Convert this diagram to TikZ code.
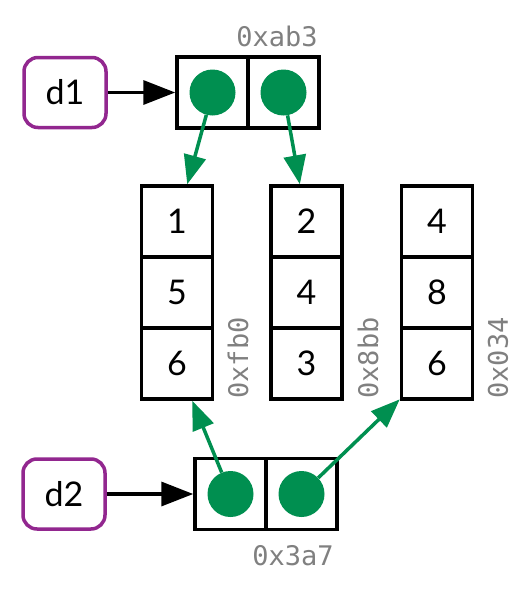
\documentclass[tikz,border=0pt]{standalone}
\usepackage{fontspec}
\setmainfont{Lato}
\setmonofont{DejaVu Sans Mono}
\usetikzlibrary{arrows.meta}
\definecolor{ptrgreen}{RGB}{0,143,80}
\definecolor{varpurple}{RGB}{146,39,143}
\definecolor{addrgray}{RGB}{128,128,128}
\tikzset{
  cell/.style={draw, line width=3.5pt, minimum width=71pt, minimum height=71pt, inner sep=0pt, font=\fontsize{34}{34}\selectfont},
  var/.style={draw=varpurple, line width=3.5pt, rounded corners=14pt, minimum width=82pt, minimum height=70pt, inner sep=0pt, font=\fontsize{34}{34}\selectfont},
  dot/.style={circle, fill=ptrgreen, minimum size=46pt, inner sep=0pt},
  addr/.style={text=addrgray, inner sep=0pt, font=\ttfamily\fontsize{27}{27}\selectfont},
  ptr/.style={draw=ptrgreen, line width=3.5pt, -{Triangle[length=29pt,width=22pt]}},
  bind/.style={line width=3.5pt, -{Triangle[length=32pt,width=24pt]}}
}
\begin{document}
\begin{tikzpicture}[x=1pt,y=-1pt]
  \useasboundingbox (0,0) rectangle (531,590);
  \node[var] (d1) at (65,92.5) {d1};
  \node[var] (d2) at (64,494) {d2};

  \node[cell] (x1) at (212.5,92.5) {};
  \node[cell] (x2) at (283.5,92.5) {};
  \node[cell] (y1) at (230.5,494) {};
  \node[cell] (y2) at (301.5,494) {};

  \node[cell] (u1) at (177,221.5) {1};
  \node[cell] (u2) at (177,292.5) {5};
  \node[cell] (u3) at (177,363.5) {6};
  \node[cell] (v1) at (306.5,221.5) {2};
  \node[cell] (v2) at (306.5,292.5) {4};
  \node[cell] (v3) at (306.5,363.5) {3};
  \node[cell] (w1) at (437,221.5) {4};
  \node[cell] (w2) at (437,292.5) {8};
  \node[cell] (w3) at (437,363.5) {6};

  \node[addr] (xa) at (277,36) {0xab3};
  \node[addr] (ya) at (293,556) {0x3a7};
  \node[addr, rotate=90] (ua) at (238,358) {0xfb0};
  \node[addr, rotate=90] (va) at (368,358) {0x8bb};
  \node[addr, rotate=90] (wa) at (498,358) {0x034};

  \node[dot] (xp1) at (x1) {};
  \node[dot] (xp2) at (x2) {};
  \node[dot] (yp1) at (y1) {};
  \node[dot] (yp2) at (y2) {};

  \draw[bind] (d1) to (x1);
  \draw[bind] (d2) to (y1);
  \draw[ptr] (xp1) to (u1); \draw[ptr] (xp2) to (v1);
  \draw[ptr] (yp1) to (u3); \draw[ptr] (yp2) to (w3);
\end{tikzpicture}
\end{document}
